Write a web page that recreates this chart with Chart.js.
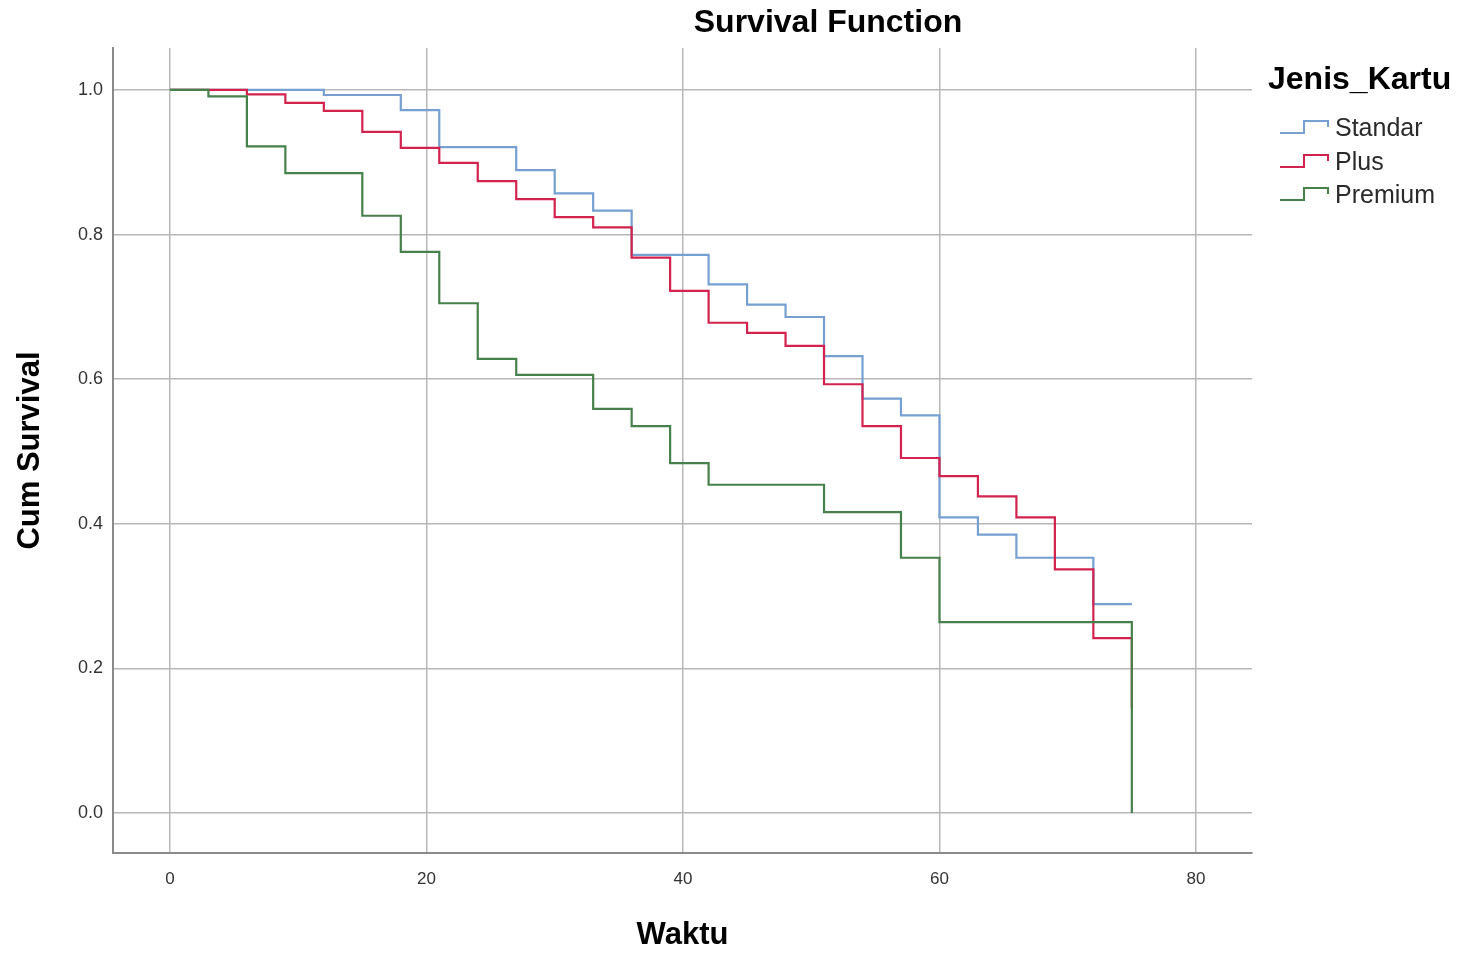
<!DOCTYPE html>
<html>
<head>
<meta charset="utf-8">
<title>Survival Function</title>
<script src="https://cdn.jsdelivr.net/npm/chart.js@4"></script>
<style>
  html, body { margin: 0; padding: 0; background: #fff; }
  #wrap { width: 1458px; height: 954px; position: relative; }
</style>
</head>
<body>
<div id="wrap"><canvas id="survChart"></canvas></div>
<script>
// ─── Data ───────────────────────────────────────────────────────────────────
const seriesNames = ['Standar', 'Plus', 'Premium'];

const standarTime = [0, 12, 18, 21, 27, 30, 33, 36, 42, 45, 48, 51, 54, 57, 60, 63, 66, 72, 75];
const standarSurv = [1.0, 0.993, 0.972, 0.921, 0.889, 0.857, 0.833, 0.772, 0.731, 0.703, 0.686, 0.632, 0.573, 0.550, 0.409, 0.385, 0.353, 0.289, 0.289];

const plusTime = [0, 6, 9, 12, 15, 18, 21, 24, 27, 30, 33, 36, 39, 42, 45, 48, 51, 54, 57, 60, 63, 66, 69, 72, 75];
const plusSurv = [1.0, 0.994, 0.982, 0.971, 0.942, 0.920, 0.899, 0.874, 0.849, 0.824, 0.810, 0.768, 0.722, 0.678, 0.664, 0.646, 0.593, 0.535, 0.491, 0.466, 0.438, 0.409, 0.337, 0.242, 0.145];

const premiumTime = [0, 3, 6, 9, 15, 18, 21, 24, 27, 33, 36, 39, 42, 51, 57, 60, 75];
const premiumSurv = [1.0, 0.991, 0.922, 0.885, 0.826, 0.776, 0.705, 0.628, 0.606, 0.559, 0.535, 0.484, 0.454, 0.416, 0.353, 0.264, 0.0];

const xTicks = [0, 20, 40, 60, 80];
const yTicks = [0.0, 0.2, 0.4, 0.6, 0.8, 1.0];

const colors = ['#769fd2', '#d2224d', '#46804a'];
const FONT = '"Liberation Sans", Arial, sans-serif';

const toPoints = (ts, ss) => ts.map((t, i) => ({ x: t, y: ss[i] }));

// ─── Title + legend (SPSS style step icons) ─────────────────────────────────
const decorations = {
  id: 'decorations',
  afterDraw(chart) {
    const ctx = chart.ctx;
    ctx.save();
    ctx.fillStyle = '#000';
    ctx.textBaseline = 'middle';
    ctx.font = 'bold 32px ' + FONT;
    ctx.textAlign = 'center';
    ctx.fillText('Survival Function', 828, 23);
    ctx.textAlign = 'left';
    ctx.fillText('Jenis_Kartu', 1268, 80);

    ctx.font = '25px ' + FONT;
    const rows = [128, 162, 195];
    seriesNames.forEach((name, i) => {
      const c = rows[i];
      ctx.strokeStyle = colors[i];
      ctx.lineWidth = 2;
      ctx.beginPath();
      ctx.moveTo(1280, c + 5);
      ctx.lineTo(1304, c + 5);
      ctx.lineTo(1304, c - 7);
      ctx.lineTo(1328, c - 7);
      ctx.lineTo(1328, c - 1);
      ctx.stroke();
      ctx.fillStyle = '#2a2a2a';
      ctx.fillText(name, 1335, c + 1);
    });
    ctx.restore();
  }
};

const ds = (label, ts, ss, i, order) => ({
  label,
  data: toPoints(ts, ss),
  borderColor: colors[i],
  backgroundColor: colors[i],
  borderWidth: 2.2,
  stepped: 'before',
  pointRadius: 0,
  fill: false,
  order
});

new Chart(document.getElementById('survChart').getContext('2d'), {
  type: 'line',
  data: {
    datasets: [
      ds(seriesNames[2], premiumTime, premiumSurv, 2, 0),
      ds(seriesNames[1], plusTime, plusSurv, 1, 1),
      ds(seriesNames[0], standarTime, standarSurv, 0, 2)
    ]
  },
  options: {
    responsive: true,
    maintainAspectRatio: false,
    animation: false,
    layout: { padding: { top: 48, right: 206, left: 0, bottom: 0 } },
    plugins: { legend: { display: false }, tooltip: { enabled: false }, title: { display: false } },
    scales: {
      x: {
        type: 'linear',
        min: -4.44, max: 84.37,
        afterFit: s => { s.height = 101; },
        afterBuildTicks: s => { s.ticks = xTicks.map(v => ({ value: v })); },
        ticks: { stepSize: 20, includeBounds: false, padding: 16, color: '#333', font: { family: FONT, size: 17 } },
        grid: { color: '#b8b8b8', lineWidth: 1.5, drawTicks: false },
        border: { display: true, color: '#8a8a8a', width: 2 },
        title: { display: true, text: 'Waktu', color: '#000', font: { family: FONT, size: 31, weight: 'bold' }, padding: { top: 0, bottom: 0 } }
      },
      y: {
        type: 'linear',
        min: -0.0553, max: 1.058,
        afterFit: s => { s.width = 113; },
        afterBuildTicks: s => { s.ticks = yTicks.map(v => ({ value: v })); },
        ticks: { stepSize: 0.2, includeBounds: false, padding: 10, color: '#333', font: { family: FONT, size: 18 }, callback: v => v.toFixed(1) },
        grid: { color: '#b8b8b8', lineWidth: 1.5, drawTicks: false },
        border: { display: true, color: '#8a8a8a', width: 2 },
        title: { display: true, text: 'Cum Survival', color: '#000', font: { family: FONT, size: 31, weight: 'bold' }, padding: { top: 12, bottom: 0 } }
      }
    }
  },
  plugins: [decorations]
});
</script>
</body>
</html>
